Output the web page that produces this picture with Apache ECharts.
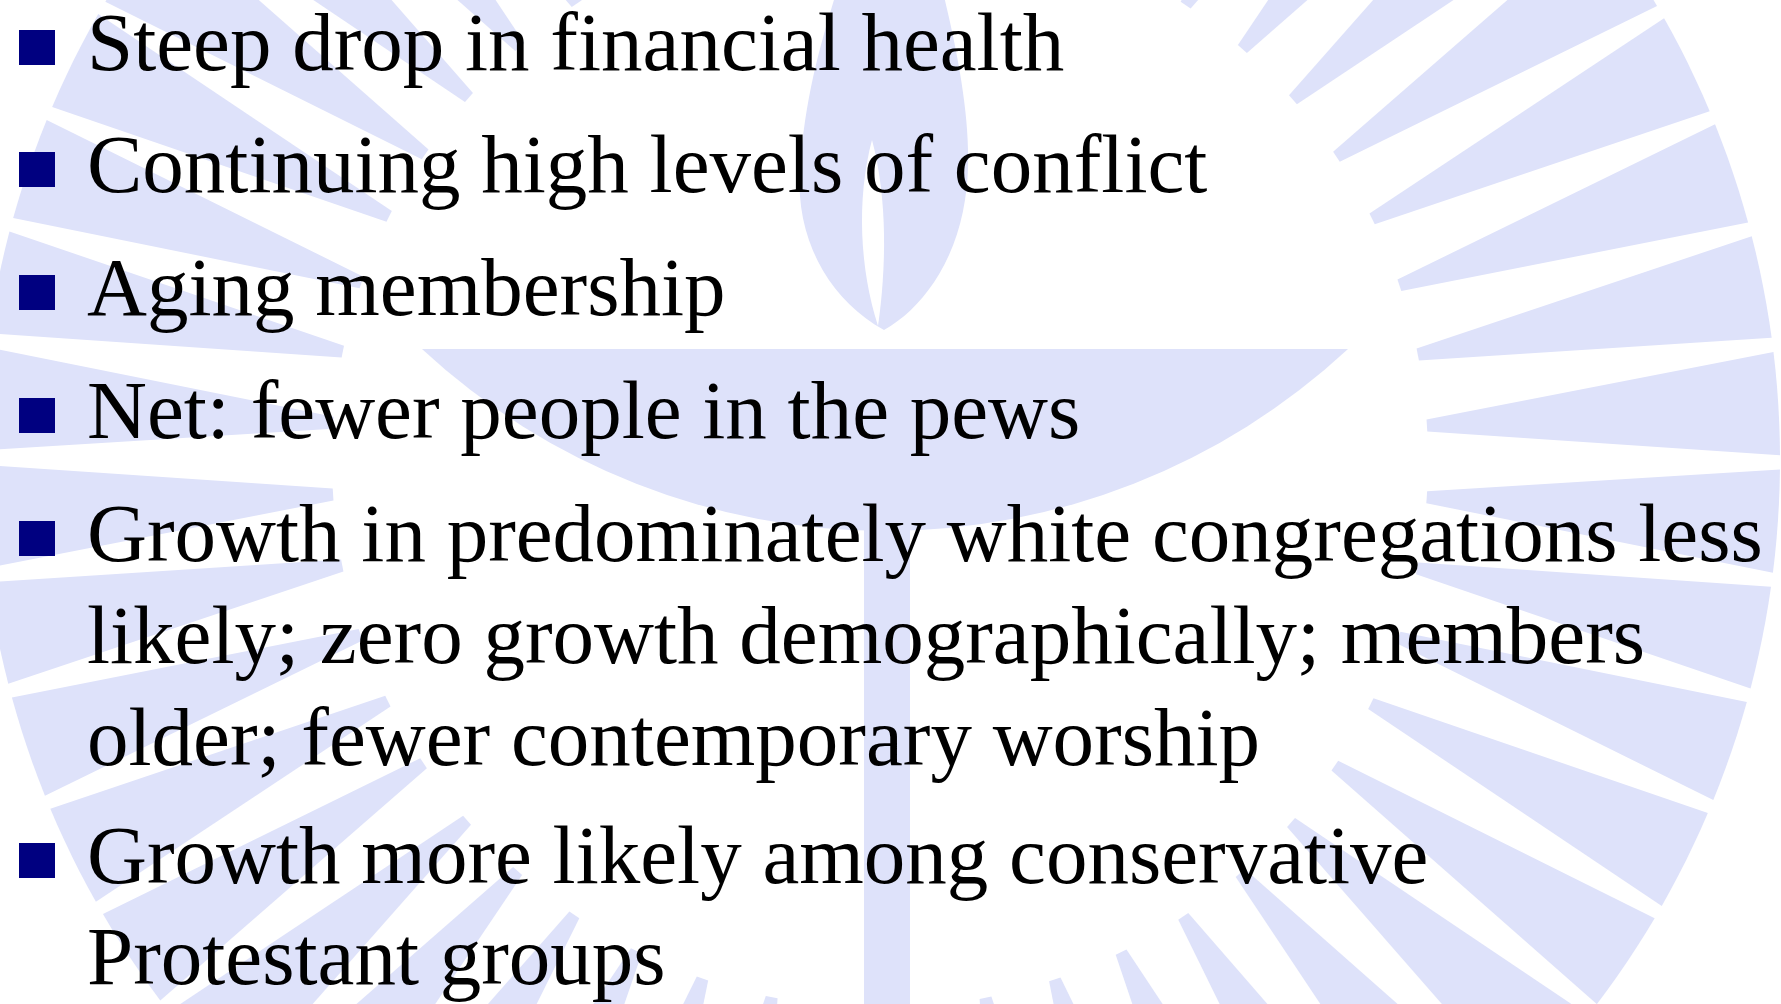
<!DOCTYPE html>
<html lang="en">
<head>
    <meta charset="UTF-8">
    <title>Slide</title>
    <style>
      * { padding: 0; margin: 0; }
      html, body { width: 100%; height: 100%; background: #fff; overflow: hidden; }
    </style>
</head>
<body>
    <div id="main" style="width: 1781px;height:1004px;"></div>
    <script src="https://cdn.jsdelivr.net/npm/echarts@6/dist/echarts.min.js"></script>
    <script>
    // bullet paragraphs (wrapped lines as on the slide)
    var paragraphs = [
        ['Steep drop in financial health'],
        ['Continuing high levels of conflict'],
        ['Aging membership'],
        ['Net: fewer people in the pews'],
        ['Growth in predominately white congregations less',
         'likely; zero growth demographically; members',
         'older; fewer contemporary worship'],
        ['Growth more likely among conservative',
         'Protestant groups']
    ];
    // baseline of every text line, top to bottom
    var lineBaselines = [69, 191, 314, 437, 560, 662, 764, 882, 983];
    // ray directions of the watermark sunburst (degrees, clockwise from 3 o'clock)
    var rayAngles = [3.9, 11.4, 18.9, 26.4, 33.9, 41.4, 48.9, 56.4, 63.9, 71.4, 78.9, 86.4,
        93.9, 101.4, 108.9, 116.4, 123.9, 131.4, 138.9, 146.4, 153.9, 161.4, 168.9, 176.4,
        183.9, 191.4, 198.9, 206.4, 213.9, 221.4, 228.9, 236.4, 243.9, 251.4, 258.9, 266.4,
        273.9, 281.4, 288.9, 296.4, 303.9, 311.4, 318.9, 326.4, 333.9, 341.4, 348.9, 356.4];

    var WM = '#dee2fa';      // watermark colour
    var CX = 880, CY = 460;  // sunburst centre
    var R1 = 548, R2 = 900;  // inner tip / outer end radius
    var FONT = '83px "Liberation Serif", "DejaVu Serif", serif';

    // bullets and text
    var graphics = [];
    var li = 0;
    paragraphs.forEach(function (lines) {
        var b = lineBaselines[li];
        graphics.push({
            type: 'rect', z: 20,
            shape: { x: 19, y: b - 39, width: 36, height: 35 },
            style: { fill: '#000080' }
        });
        lines.forEach(function (t) {
            graphics.push({
                type: 'text', z: 20,
                style: {
                    text: t, x: 87, y: lineBaselines[li] - 21,
                    font: FONT, fill: '#000',
                    textAlign: 'left', textVerticalAlign: 'middle'
                }
            });
            li++;
        });
    });

    var option = {
        animation: false,
        backgroundColor: '#fff',
        graphic: graphics,
        series: [{
            // sunburst rays
            type: 'custom',
            coordinateSystem: 'none',
            silent: true,
            z: 0,
            data: rayAngles.map(function (a) { return [a]; }),
            renderItem: function (params, api) {
                var a = api.value(0) * Math.PI / 180;
                var half = 3.3 * Math.PI / 180;
                var tipHalf = 6;
                var px = -Math.sin(a), py = Math.cos(a);
                var tx = CX + R1 * Math.cos(a), ty = CY + R1 * Math.sin(a);
                var pts = [[tx - px * tipHalf, ty - py * tipHalf]];
                for (var k = 0; k <= 6; k++) {
                    var t = a - half + (2 * half) * k / 6;
                    pts.push([CX + R2 * Math.cos(t), CY + R2 * Math.sin(t)]);
                }
                pts.push([tx + px * tipHalf, ty + py * tipHalf]);
                return {
                    type: 'polygon',
                    shape: { points: pts },
                    style: { fill: WM }
                };
            }
        }, {
            // chalice: bowl, stem, flame
            type: 'custom',
            coordinateSystem: 'none',
            silent: true,
            z: 1,
            data: [[0]],
            renderItem: function () {
                return {
                    type: 'group',
                    children: [{
                        type: 'path',
                        shape: { pathData: 'M 422 349 A 680 680 0 0 0 1348 349 Z' },
                        style: { fill: WM }
                    }, {
                        type: 'rect',
                        shape: { x: 864, y: 480, width: 46, height: 540 },
                        style: { fill: WM }
                    }, {
                        type: 'path',
                        shape: { pathData: 'M 884 330 C 830 300 795 240 800 170 C 805 90 825 30 840 -20 L 940 -20 C 960 60 975 140 965 200 C 955 265 920 310 884 330 Z' },
                        style: { fill: WM }
                    }, {
                        type: 'path',
                        shape: { pathData: 'M 872 140 C 856 200 860 270 878 326 C 886 270 888 200 872 140 Z' },
                        style: { fill: '#fff' }
                    }]
                };
            }
        }]
    };

    var myChart = echarts.init(document.getElementById('main'));
    myChart.setOption(option);
    </script>
</body>
</html>
